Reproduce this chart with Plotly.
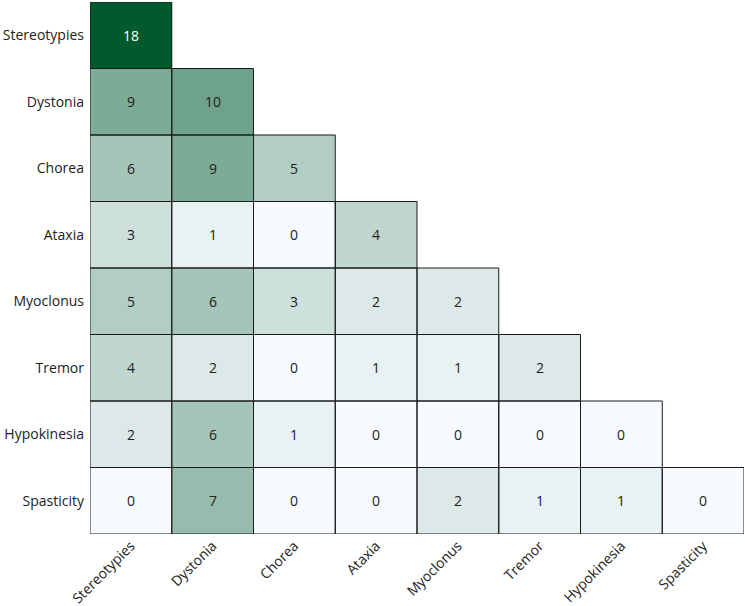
import plotly.graph_objects as go

labels = ["Stereotypies", "Dystonia", "Chorea", "Ataxia", "Myoclonus",
          "Tremor", "Hypokinesia", "Spasticity"]

# lower-triangle co-occurrence counts, row by row
counts = [
    [18],
    [9, 10],
    [6, 9, 5],
    [3, 1, 0, 4],
    [5, 6, 3, 2, 2],
    [4, 2, 0, 1, 1, 2],
    [2, 6, 1, 0, 0, 0, 0],
    [0, 7, 0, 0, 2, 1, 1, 0],
]

n = len(labels)
z = [row + [None] * (n - len(row)) for row in counts]
zmax = max(max(r) for r in counts)

fig = go.Figure(go.Heatmap(
    z=z, x=labels, y=labels,
    colorscale=[[0, "#f7fbff"], [1, "#005a2c"]],
    zmin=0, zmax=zmax, showscale=False, hoverongaps=False,
))

# cell borders and value labels
for i, row in enumerate(counts):
    for j, v in enumerate(row):
        fig.add_shape(type="rect", xref="x", yref="y",
                      x0=j - 0.5, x1=j + 0.5, y0=i - 0.5, y1=i + 0.5,
                      line=dict(color="#1a1a1a", width=1))
        fig.add_annotation(x=labels[j], y=labels[i], text=str(v), showarrow=False,
                           font=dict(size=14, color="white" if v > 0.7 * zmax else "#222222"))

fig.update_xaxes(tickangle=-45, showgrid=False, zeroline=False, ticks="",
                 range=[-0.5, n - 0.5], automargin=False, ticklabelstandoff=0)
fig.update_yaxes(autorange=False, range=[n - 0.5, -0.5], showgrid=False,
                 zeroline=False, ticks="", automargin=False, ticklabelstandoff=5)
fig.update_layout(
    width=745, height=606,
    margin=dict(l=90, r=1, t=2, b=72),
    plot_bgcolor="white", paper_bgcolor="white",
    font=dict(family="Open Sans", size=14, color="#222222"),
)

# drop the default body margin so the figure sits at the page corner
fig.write_html("out.html", config={"displayModeBar": False},
               post_script="document.body.style.margin='0';")
